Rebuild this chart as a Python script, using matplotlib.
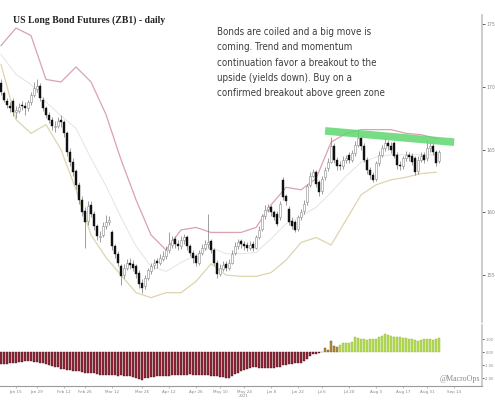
import matplotlib
matplotlib.use("Agg")
import matplotlib.pyplot as plt
from matplotlib import font_manager as fm
import numpy as np

# ---------------- data ----------------
opens = [170.3,169.5,168.9,168.5,168.9,168.0,168.1,168.6,168.5,168.3,
         168.8,169.4,169.8,170.1,169.0,168.3,167.8,167.4,166.8,166.9,
         167.4,167.2,166.3,164.8,164.0,163.3,162.2,161.0,160.1,159.3,
         160.6,159.9,158.9,158.0,158.2,158.9,159.2,158.4,157.3,156.7,
         155.7,155.0,155.6,156.0,155.9,155.7,155.2,154.4,154.1,154.8,
         155.3,155.8,156.1,156.0,156.3,156.5,157.0,157.4,157.9,157.5,
         157.3,157.8,158.0,157.3,156.8,156.5,156.0,156.8,157.2,157.5,
         157.7,157.0,156.0,155.1,155.5,155.9,155.6,156.0,156.8,157.3,
         157.7,157.5,157.4,157.2,157.5,157.2,158.0,158.7,159.7,160.3,
         160.4,160.0,159.9,159.6,162.6,161.3,160.3,159.3,159.2,158.7,
         159.6,160.1,160.8,162.2,162.9,163.2,162.4,161.7,162.8,163.5,
         164.0,165.3,164.2,163.8,163.7,164.2,164.6,164.2,164.7,165.4,
         165.9,165.3,164.2,163.4,163.0,162.7,163.9,164.6,165.1,165.5,
         165.3,165.5,164.6,163.8,163.7,164.3,164.6,164.5,164.3,163.3,
         164.2,164.6,164.3,165.1,165.3,164.8,164.1]
highs = [170.6,169.7,169.1,168.8,169.1,168.5,168.7,168.9,168.8,169.0,
         169.6,170.4,170.6,170.3,169.2,168.5,168.0,167.6,167.3,167.6,
         167.8,167.4,166.5,165.1,164.3,163.5,162.4,161.3,160.4,160.9,
         160.9,160.1,159.1,158.5,159.2,159.8,159.7,158.6,157.5,156.9,
         155.9,155.9,156.3,156.4,156.2,155.9,155.4,154.7,155.0,155.6,
         156.0,156.3,156.4,156.7,156.9,157.3,158.4,158.1,158.1,157.8,
         158.1,158.3,158.2,157.5,157.0,156.7,157.0,157.5,157.8,159.9,
         157.9,157.2,156.2,155.9,156.1,156.1,156.3,157.0,157.6,157.9,
         157.9,157.7,157.6,157.7,157.7,158.2,158.9,159.9,160.6,160.7,
         160.6,160.2,160.1,160.9,162.8,161.5,160.5,159.6,159.4,159.8,
         160.3,161.0,162.3,163.2,163.5,163.4,162.6,162.9,163.6,164.3,
         166.0,165.5,164.4,164.1,164.5,164.6,164.8,165.0,165.7,166.6,
         166.1,165.5,164.4,163.6,163.2,164.1,164.9,165.4,165.9,165.8,
         165.6,165.7,164.8,164.1,164.5,164.9,164.8,164.7,164.5,164.5,
         164.8,164.8,165.8,165.6,165.5,165.0,165.0]
lows = [169.4,168.8,168.3,168.0,167.7,167.5,167.9,168.2,167.8,168.1,
        168.6,169.2,169.6,168.9,168.1,167.5,167.1,166.6,166.4,166.7,
        166.8,166.0,164.5,163.7,162.9,161.9,160.7,159.7,157.2,159.0,
        159.6,158.6,157.8,157.6,158.0,158.7,159.0,157.0,156.4,155.7,
        154.2,154.8,155.4,155.5,155.3,154.8,154.0,153.6,153.9,154.6,
        155.1,155.5,155.6,155.8,156.1,156.3,156.8,157.2,157.2,157.0,
        157.1,157.5,157.0,156.5,156.0,155.7,155.8,156.6,157.0,157.2,
        156.8,155.8,154.8,154.9,155.3,155.3,155.4,155.9,156.6,157.1,
        157.2,157.0,156.9,157.0,156.9,157.1,157.9,158.5,159.5,160.0,
        159.7,159.4,158.9,159.4,161.0,160.6,159.0,158.7,158.4,158.5,
        159.4,159.9,160.6,162.0,162.8,162.0,161.3,161.5,162.6,163.3,
        163.9,163.9,163.4,163.4,163.5,163.9,163.9,164.0,164.5,165.2,
        165.0,164.0,163.1,162.7,162.4,162.5,163.7,164.4,164.9,165.0,
        164.7,164.3,163.5,163.4,163.5,164.1,164.1,163.8,163.0,163.1,
        164.0,163.9,164.1,164.8,164.6,163.7,163.9]
closes = [169.6,169.0,168.6,168.3,168.0,168.2,168.4,168.5,168.3,168.8,
          169.4,169.9,170.1,169.1,168.3,167.8,167.4,166.9,166.9,167.3,
          167.2,166.3,164.8,164.0,163.2,162.2,161.0,160.0,159.2,160.5,
          159.9,158.9,158.1,158.1,158.9,159.2,159.4,157.3,156.7,156.0,
          154.9,155.6,156.0,155.8,155.6,155.1,154.3,154.0,154.8,155.4,
          155.7,156.0,156.0,156.4,156.5,157.0,157.5,157.8,157.5,157.3,
          157.8,158.0,157.3,156.8,156.4,156.0,156.8,157.2,157.5,157.6,
          157.0,156.0,155.1,155.6,155.8,155.6,156.0,156.7,157.3,157.6,
          157.5,157.3,157.2,157.4,157.2,158.0,158.6,159.7,160.2,160.4,
          160.0,159.6,159.1,160.7,161.2,160.9,159.2,158.9,158.6,159.6,
          160.0,160.7,162.1,162.9,163.2,162.3,161.6,162.7,163.4,164.0,
          165.3,164.2,163.7,163.7,164.2,164.3,164.2,164.7,165.4,165.9,
          165.3,164.2,163.4,163.0,162.6,163.9,164.6,165.1,165.5,165.3,
          165.0,164.5,163.8,163.7,164.3,164.6,164.4,164.0,163.2,164.2,
          164.5,164.2,165.1,165.3,164.8,163.9,164.8]

# Bollinger bands, read every 5 bars
band_bars = list(range(0, 150, 5))
bb_upper = [173.3,174.7,174.1,170.6,170.4,171.6,170.4,167.8,164.2,161.0,
            158.2,157.0,158.6,158.8,158.4,158.4,158.4,158.8,160.6,162.0,
            161.8,162.7,165.6,166.3,166.6,166.6,166.6,166.3,166.2,165.9]
bb_middle = [172.6,171.0,170.2,168.8,167.7,166.7,164.3,162.1,159.6,157.3,
             155.7,155.3,156.0,156.6,157.2,156.7,156.7,156.8,157.9,159.1,
             159.7,160.4,161.6,162.9,164.0,164.4,164.6,164.6,164.6,164.6]
bb_lower = [171.8,167.4,166.3,167.0,165.0,161.8,158.2,156.4,155.0,153.6,
            153.2,153.6,153.6,154.5,155.9,155.0,154.9,154.9,155.2,156.2,
            157.6,158.0,157.4,159.4,161.4,162.2,162.6,162.8,163.1,163.2]

# momentum histogram (lower panel)
momentum = [-0.90,-0.88,-0.86,-0.83,-0.80,-0.78,-0.75,-0.72,-0.70,-0.68,
            -0.70,-0.72,-0.75,-0.80,-0.85,-0.92,-1.00,-1.05,-1.10,-1.15,
            -1.25,-1.30,-1.35,-1.38,-1.40,-1.45,-1.45,-1.50,-1.55,-1.55,
            -1.60,-1.62,-1.65,-1.70,-1.72,-1.70,-1.75,-1.72,-1.75,-1.78,
            -1.75,-1.80,-1.82,-1.85,-1.88,-1.95,-2.05,-2.10,-2.00,-1.95,
            -1.90,-1.88,-1.85,-1.85,-1.82,-1.80,-1.78,-1.75,-1.72,-1.70,
            -1.70,-1.72,-1.70,-1.68,-1.70,-1.72,-1.70,-1.70,-1.72,-1.75,
            -1.78,-1.82,-1.85,-1.90,-1.92,-1.95,-1.95,-1.80,-1.65,-1.55,
            -1.45,-1.35,-1.25,-1.18,-1.15,-1.15,-1.18,-1.20,-1.20,-1.22,
            -1.20,-1.18,-1.15,-1.10,-1.00,-0.95,-0.92,-0.88,-0.85,-0.82,
            -0.80,-0.65,-0.50,-0.30,-0.15,-0.10,-0.05,0.05,0.30,0.20,
            0.85,0.50,0.40,0.60,0.75,0.70,0.75,0.80,1.15,1.10,
            1.05,1.00,0.95,1.00,1.00,1.05,1.15,1.25,1.40,1.35,
            1.25,1.20,1.15,1.15,1.10,1.10,1.05,1.05,0.95,0.85,
            0.95,1.00,1.00,1.00,0.95,1.00,1.10]
transition_end = 113   # bars before this with positive momentum drawn brown

# green resistance zone
zone_bars = [108, 151]
zone_prices = [166.5, 165.6]

price_ticks = [175, 170, 165, 160, 155]
mom_ticks = [1.0, 0.0, -1.0, -2.0]
date_tick_bars = [5, 12, 21, 28, 37, 47, 56, 65, 73, 81, 90, 99, 107, 116, 125, 134, 142, 151]
date_labels = ["Jan 15", "Jan 29", "Feb 12", "Feb 26", "Mar 12", "Mar 26", "Apr 12", "Apr 26",
               "May 10", "May 24", "Jun 8", "Jun 22", "Jul 6", "Jul 20", "Aug 3", "Aug 17",
               "Aug 31", "Sep 14"]
year_label = "2021"
year_tick_index = 9

title = "US Long Bond Futures (ZB1) - daily"
note = ("Bonds are coiled and a big move is\n"
        "coming. Trend and momentum\n"
        "continuation favor a breakout to the\n"
        "upside (yields down). Buy on a\n"
        "confirmed breakout above green zone")
watermark = "@MacroOps"

# pick a narrow font for the handwritten-style note
condensed = any(f.name == "DejaVu Sans" and str(f.stretch) in ("condensed", "semi-condensed", "87.5", "75")
                for f in fm.fontManager.ttflist)
if condensed:
    note_font = dict(family="DejaVu Sans", fontstretch="condensed", fontsize=7.0)
else:
    note_font = dict(family="Liberation Sans", fontsize=7.05)

# ---------------- plot ----------------
fig = plt.figure(figsize=(4.95, 4.0), dpi=100)
fig.patch.set_facecolor("white")

ax = fig.add_axes([0.0, 0.195, 0.974, 0.7675])
ax2 = fig.add_axes([0.0, 0.035, 0.974, 0.1525])

n = len(closes)
idx = np.arange(n)
o = np.array(opens); c = np.array(closes)
h = np.array(highs); l = np.array(lows)

# bands
ax.plot(band_bars, bb_upper, color="#d9a3ad", lw=0.9, zorder=1)
ax.plot(band_bars, bb_middle, color="#e4e4e4", lw=0.7, zorder=1)
ax.plot(band_bars, bb_lower, color="#ddd5ad", lw=0.9, zorder=1)

# wicks
ax.vlines(idx, l, h, color="#777777", lw=0.5, zorder=2)
# bodies
up = c >= o
bottoms = np.minimum(o, c)
heights = np.maximum(np.abs(c - o), 0.08)
ax.bar(idx[up], heights[up], bottom=bottoms[up], width=0.7,
       color="white", edgecolor="#8a8a8a", linewidth=0.4, zorder=3)
ax.bar(idx[~up], heights[~up], bottom=bottoms[~up], width=0.7,
       color="#111111", edgecolor="#111111", linewidth=0.3, zorder=3)

# green zone
ax.plot(zone_bars, zone_prices, color="#5fd770", lw=5.5, alpha=0.85,
        solid_capstyle="butt", zorder=4)

xmin, xmax = -1/3, 160.33
ax.set_xlim(xmin, xmax)
ax.set_ylim(151.26, 175.74)
for s in ["left", "top", "bottom"]:
    ax.spines[s].set_visible(False)
ax.spines["right"].set_color("#c4c4c4")
ax.spines["right"].set_linewidth(1.2)
ax.yaxis.tick_right()
ax.set_yticks(price_ticks)
ax.set_yticklabels([str(t) for t in price_ticks])
ax.tick_params(axis="y", length=2, width=0.6, colors="#444444", labelsize=3.3,
               labelcolor="#888888", pad=1.2)
ax.set_xticks([])

# texts
fig.text(13/495, 1 - 20/400, title, fontsize=7.0, fontweight="bold",
         family="Liberation Serif", color="#222222", va="center", ha="left")
fig.text(217/495, 1 - 27/400, note, color="#3c3c3c",
         va="top", ha="left", linespacing=1.66, **note_font)

# lower panel
colors = []
edges = []
for i, v in enumerate(momentum):
    if v < 0:
        colors.append("#92283a"); edges.append("#4a1018")
    elif i < transition_end:
        colors.append("#b8913a"); edges.append("#6b5020")
    else:
        colors.append("#b7dd52"); edges.append("#8fb83a")
ax2.bar(idx, momentum, width=0.6, color=colors, edgecolor=edges, linewidth=0.3)
ax2.set_xlim(xmin, xmax)
ax2.set_ylim(-2.58, 2.1)
for s in ["left", "top"]:
    ax2.spines[s].set_visible(False)
ax2.spines["right"].set_color("#c4c4c4")
ax2.spines["right"].set_linewidth(1.2)
ax2.spines["bottom"].set_color("#9a9a9a")
ax2.spines["bottom"].set_linewidth(0.8)
ax2.yaxis.tick_right()
ax2.set_yticks(mom_ticks)
ax2.set_yticklabels([f"{t:.2f}" for t in mom_ticks])
ax2.tick_params(axis="y", length=1.5, width=0.6, colors="#444444", labelsize=2.5,
                labelcolor="#888888", pad=0.8)
ax2.set_xticks(date_tick_bars)
ax2.set_xticklabels(date_labels)
ax2.tick_params(axis="x", length=1.5, width=0.4, colors="#888888", labelsize=3.0,
                labelcolor="#888888", pad=1.2)
ax2.annotate(year_label, xy=(date_tick_bars[year_tick_index], 0),
             xycoords=ax2.get_xaxis_transform(), xytext=(0, -6.0),
             textcoords="offset points", fontsize=2.8, color="#888888",
             ha="center", va="top")
ax2.text(0.995, 0.12, watermark, transform=ax2.transAxes, fontsize=5.7,
         family="Liberation Serif", color="#8a8a8a", ha="right", va="center")

fig.savefig("out.png", dpi=100, facecolor="white")
